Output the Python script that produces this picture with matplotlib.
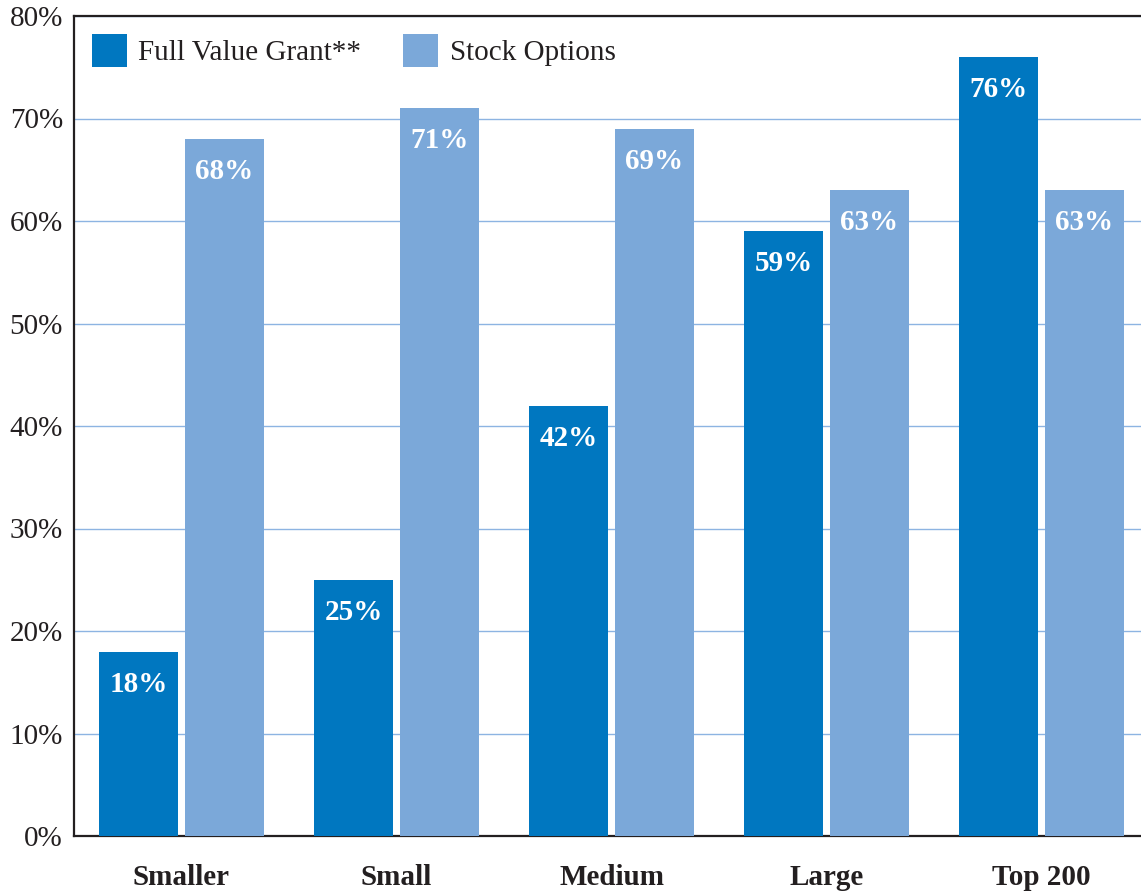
import numpy as np
import matplotlib.pyplot as plt

categories = ['Smaller', 'Small', 'Medium', 'Large', 'Top 200']
full_value = [18, 25, 42, 59, 76]
stock_options = [68, 71, 69, 63, 63]
series_names = ['Full Value Grant**', 'Stock Options']

plt.rcParams['font.family'] = ['Liberation Serif', 'DejaVu Serif']
text_color = '#231F20'
dark_blue = '#0077C0'
light_blue = '#7BA8D9'

fig = plt.figure(figsize=(11.41, 8.93), dpi=100)
ax = fig.add_axes([74 / 1141, 1 - 836 / 893, 1075 / 1141, 820 / 893])

x = np.arange(len(categories))
w = 0.363
offset = 0.2
b1 = ax.bar(x - offset, full_value, w, color=dark_blue, label=series_names[0], zorder=3)
b2 = ax.bar(x + offset, stock_options, w, color=light_blue, label=series_names[1], zorder=3)

for bars, vals in [(b1, full_value), (b2, stock_options)]:
    for rect, v in zip(bars, vals):
        ax.annotate(f'{v}%', (rect.get_x() + rect.get_width() / 2, v),
                    xytext=(0, -23.5), textcoords='offset points',
                    ha='center', va='center', color='white',
                    fontsize=21, fontweight='bold', zorder=4)

ax.set_xlim(-0.5, 4.5)
ax.set_ylim(0, 80)
ax.set_yticks(range(0, 81, 10))
ax.set_yticklabels([f'{t}%' for t in range(0, 81, 10)])
ax.set_xticks(x)
ax.set_xticklabels(categories, fontweight='bold')
ax.tick_params(axis='y', length=0, pad=8, labelsize=21, labelcolor=text_color)
ax.tick_params(axis='x', length=0, pad=20, labelsize=21, labelcolor=text_color)

ax.yaxis.grid(True, color='#8DB4E2', linewidth=1.0, zorder=0)
ax.set_axisbelow(True)
for s in ['left', 'top', 'bottom']:
    ax.spines[s].set_linewidth(1.6)
    ax.spines[s].set_color(text_color)
ax.spines['right'].set_visible(False)

leg = ax.legend(loc='upper left', bbox_to_anchor=(0.0, 1.0), ncol=2, frameon=False,
                fontsize=21, handlelength=1.2, handleheight=1.4,
                handletextpad=0.38, columnspacing=1.47, borderaxespad=0.2)
for t in leg.get_texts():
    t.set_color(text_color)

fig.savefig('out.png', dpi=100)
